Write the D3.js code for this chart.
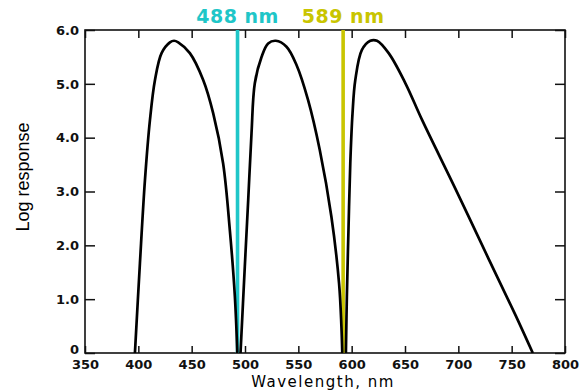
<!DOCTYPE html>
<html>
<head>
<meta charset="utf-8">
<script src="https://cdn.jsdelivr.net/npm/d3@7"></script>
<style>
  body { margin: 0; background: #fff; }
  .axis text { font-family: "DejaVu Sans", sans-serif; font-size: 13px; font-weight: bold; fill: #111; }
  .axis path { display: none; }
  .axis line { stroke: #111; stroke-width: 1.5; }
</style>
</head>
<body>
<div id="chart"></div>
<script>
// wavelength (nm) / log response points
const band1Wave = [396.8, 401.5, 406.2, 410.9, 415.6, 421.8, 429.6, 433.5, 437.4, 448.3, 460.8, 470.2, 479.5, 485.8, 490.5, 492.8];
const band1Resp = [0, 1.67, 3.21, 4.33, 5.07, 5.57, 5.77, 5.8, 5.77, 5.57, 5.07, 4.45, 3.52, 2.28, 1.05, 0];
const band2Wave = [495.8, 499.8, 503, 506.1, 509.2, 515.5, 521.7, 528.9, 538.9, 548.3, 559.1, 570.1, 581, 588.2, 590.4, 591.2];
const band2Resp = [0, 1.6, 2.84, 4.08, 5.01, 5.5, 5.75, 5.8, 5.69, 5.35, 4.7, 3.77, 2.53, 1.29, 0.49, 0];
const band3Wave = [594.6, 595.5, 597, 598.7, 600.8, 603.4, 609.6, 617.5, 623.7, 634.7, 650.4, 666, 697.3, 728.6, 753.7, 769.8];
const band3Resp = [0, 1.05, 2.28, 3.52, 4.45, 5.07, 5.63, 5.8, 5.8, 5.57, 5.01, 4.33, 3.05, 1.74, 0.7, 0];

// laser lines, placed where they are drawn in the figure
const laserLabels = ['488 nm', '589 nm'];
const laserWave = [493, 592];
const laserColors = ['#1fc6c8', '#c9c500'];

const xTicks = [350, 400, 450, 500, 550, 600, 650, 700, 750, 800];
const yTicks = [0, 1, 2, 3, 4, 5, 6];
const yTickLabels = ['0', '1.0', '2.0', '3.0', '4.0', '5.0', '6.0'];

const width = 585, height = 391;
const margin = {top: 30, right: 20, bottom: 38, left: 85};
const innerW = width - margin.left - margin.right;
const innerH = height - margin.top - margin.bottom;

const svg = d3.select('#chart').append('svg')
  .attr('width', width).attr('height', height);
const g = svg.append('g').attr('transform', `translate(${margin.left},${margin.top})`);

const x = d3.scaleLinear().domain([350, 800]).range([0, innerW]);
const y = d3.scaleLinear().domain([0, 6]).range([innerH, 0]);

// ticks on all four sides, pointing inward
g.append('g').attr('class', 'axis')
  .attr('transform', `translate(0,${innerH})`)
  .call(d3.axisBottom(x).tickValues(xTicks).tickSize(-7).tickPadding(7).tickFormat(d3.format('d')));
g.append('g').attr('class', 'axis')
  .call(d3.axisTop(x).tickValues(xTicks).tickSize(-8).tickFormat(''));
const yAxisG = g.append('g').attr('class', 'axis')
  .call(d3.axisLeft(y).tickValues(yTicks).tickSize(-10).tickPadding(6).tickFormat((d, i) => yTickLabels[i]));
// the zero label sits a little high so it clears the 350 label
yAxisG.selectAll('.tick text').filter(d => d === 0).attr('dy', '0.05em');
g.append('g').attr('class', 'axis')
  .attr('transform', `translate(${innerW},0)`)
  .call(d3.axisRight(y).tickValues(yTicks).tickSize(-10).tickFormat(''));

g.append('rect')
  .attr('width', innerW).attr('height', innerH)
  .attr('fill', 'none').attr('stroke', '#111').attr('stroke-width', 1.6);

g.append('clipPath').attr('id', 'plotClip')
  .append('rect').attr('width', innerW).attr('height', innerH);

// laser lines
g.selectAll('.laser').data(laserWave).enter().append('line')
  .attr('class', 'laser')
  .attr('x1', d => x(d)).attr('x2', d => x(d))
  .attr('y1', 0).attr('y2', innerH)
  .attr('stroke', (d, i) => laserColors[i]).attr('stroke-width', 3.6);

svg.selectAll('.laserLabel').data(laserLabels).enter().append('text')
  .attr('class', 'laserLabel')
  .attr('x', (d, i) => margin.left + x(laserWave[i]))
  .attr('y', 23)
  .attr('text-anchor', 'middle')
  .style('font-family', '"DejaVu Sans", sans-serif')
  .style('font-size', '19px').style('font-weight', 'bold')
  .style('letter-spacing', '0.5px')
  .attr('fill', (d, i) => laserColors[i])
  .text(d => d);

// response curves
const bands = [[band1Wave, band1Resp], [band2Wave, band2Resp], [band3Wave, band3Resp]];
const line = d3.line()
  .x(d => x(d[0])).y(d => y(d[1]))
  .curve(d3.curveCatmullRom.alpha(0.5));

g.append('g').attr('clip-path', 'url(#plotClip)')
  .selectAll('.band').data(bands).enter().append('path')
  .attr('class', 'band')
  .attr('d', b => line(d3.zip(b[0], b[1])))
  .attr('fill', 'none').attr('stroke', '#000').attr('stroke-width', 2.7)
  .attr('stroke-linejoin', 'round');

// axis titles
svg.append('text')
  .attr('x', 323).attr('y', 387)
  .attr('text-anchor', 'middle')
  .style('font-family', '"DejaVu Sans", sans-serif').style('font-size', '15px')
  .style('letter-spacing', '1.5px')
  .text('Wavelength, nm');

svg.append('text')
  .attr('transform', 'translate(29,177) rotate(-90)')
  .attr('text-anchor', 'middle')
  .style('font-family', '"Liberation Sans Narrow", "Liberation Sans", sans-serif').style('font-size', '18px')
  .text('Log response');
</script>
</body>
</html>
